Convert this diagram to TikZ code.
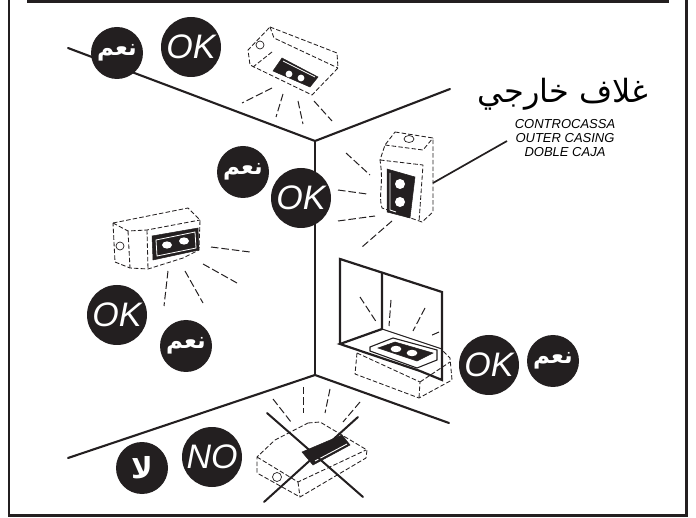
\documentclass[tikz,border=0pt]{standalone}
\usepackage{fontspec}
\setmainfont{Liberation Sans}
\newfontfamily\arabicfont[Script=Arabic]{DejaVu Sans}
\TeXXeTstate=1
\definecolor{ink}{HTML}{231F20}
\tikzset{
  x=1pt,y=-1pt,
  frameline/.style={draw=ink,line width=2.8pt},
  wall/.style={draw=ink,line width=2.1pt,line cap=round},
  niche/.style={draw=ink,line width=2.2pt,line join=miter},
  ray/.style={draw=ink,line width=1pt,dash pattern=on 7.5pt off 3pt},
  casing/.style={draw=ink,line width=.85pt,dash pattern=on 4.5pt off 2.2pt,line join=round},
  plate/.style={fill=ink,draw=ink,line width=.5pt},
  hole/.style={fill=white,draw=none},
  badge/.style={circle,fill=ink,draw=none,inner sep=0pt,text=white},
  okb/.style={badge,minimum size=60pt,font=\itshape\fontsize{34}{34}\selectfont},
  yesb/.style={badge,minimum size=52pt,font=\arabicfont\bfseries\fontsize{23}{23}\selectfont},
  nob/.style={badge,minimum size=52pt,font=\arabicfont\bfseries\fontsize{29}{29}\selectfont},
  crossline/.style={draw=ink,line width=2pt,line cap=round},
}
\newcommand{\yesword}{\beginR نعم\endR}
\begin{document}
\begin{tikzpicture}
\useasboundingbox (0,0) rectangle (696,518);
\draw[frameline] (27,1.5) -- (669,1.5);
\draw[frameline] (9,0) -- (9,515.5) -- (686.5,515.5) -- (686.5,0);

% room edges
\coordinate (cTop) at (315,141); \coordinate (cBot) at (315,375);
\coordinate (wA) at (68,48); \coordinate (wB) at (450,89);
\coordinate (wC) at (68,458); \coordinate (wD) at (449,423);
\draw[wall] (wA) -- (cTop) -- (wB);
\draw[wall] (cTop) -- (cBot);
\draw[wall] (wC) -- (cBot) -- (wD);

% ceiling unit
\draw[casing] (270,27) -- (337,53) -- (338,68) -- (312,95) -- (250,65) -- (248,50) -- cycle;
\draw[casing] (270,27) -- (274,38) -- (338,68);
\draw[casing] (272,52) -- (253,67);
\draw[draw=ink,line width=.7pt] (260,45) circle (4);
\draw[plate] (282,58) -- (318,77) -- (310,87) -- (273,71) -- cycle;
\draw[draw=white,line width=.7pt] (283,61) -- (315,77);
\fill[hole] (289,74) circle (3.4) (301,78) circle (3.4);
\draw[ray] (272,88) -- (242,103);
\draw[ray] (283,94) -- (276,117);
\draw[ray] (298,101) -- (303,124);
\draw[ray] (314,101) -- (332,121);

% wall unit right
\draw[casing] (395,132) -- (433,138) -- (433,212) -- (422,222) -- (382,208)
  .. controls (378,195) and (384,185) .. (380,160) -- (385,145) -- cycle;
\draw[casing] (385,145) -- (423,150) -- (433,138);
\draw[casing] (380,160) -- (423,165) -- (419,222);
\draw[draw=ink,line width=.7pt] (409,139) ellipse (5 and 3.5);
\draw[plate] (387,169) -- (415,177) -- (410,218) -- (387,212) -- cycle;
\draw[draw=white,line width=.9pt] (390,173) -- (390,210) -- (396,212);
\fill[hole] (400,184) circle (5) (400,202) circle (5);
\draw[ray] (346,153) -- (370,175);
\draw[ray] (338,190) -- (367,194);
\draw[ray] (338,221) -- (375,216);
\draw[ray] (392,221) -- (362,247);

% left wall unit
\draw[casing] (113,223) -- (188,208) -- (200,220) -- (199,250) -- (183,258) -- (148,269) -- (130,268) -- (115,262) -- cycle;
\draw[casing] (113,223) -- (128,231) -- (147,230) -- (200,220);
\draw[casing] (128,231) -- (130,268);
\draw[casing] (147,230) -- (148,269);
\draw[draw=ink,line width=.7pt] (120,246) circle (4);
\draw[plate] (152,236) -- (198,228) -- (199,250) -- (153,260) -- cycle;
\draw[draw=white,line width=.8pt] (156,240) -- (195,232) -- (196,248) -- (157,256) -- cycle;
\fill[hole] (167,245) ellipse (5 and 3.6) (184,241) ellipse (5 and 3.6);
\draw[ray] (211,247) -- (250,252);
\draw[ray] (203,264) -- (237,283);
\draw[ray] (185,271) -- (203,303);
\draw[ray] (168,271) -- (164,306);

% niche
\draw[casing] (357,353) -- (355,374) -- (419,398) -- (452,380) -- (450,358) -- (442,350);
\draw[casing] (357,353) -- (420,382) -- (419,398);
\draw[casing] (420,382) -- (450,362);
\draw[niche] (340,344) -- (340,259) -- (442,292) -- (442,380) -- (420,371);
\draw[niche] (382,272) -- (382,329) -- (340,344) -- (420,371);
\draw[draw=ink,line width=1.1pt] (382,329) -- (442,349);
\draw[draw=ink,line width=1.1pt,fill=white] (370,347) -- (393,338) -- (437,350) -- (437,360) -- (417,368) -- (370,351) -- cycle;
\draw[plate] (378,348) -- (395,342) -- (433,353) -- (417,361) -- cycle;
\fill[hole] (396,349) ellipse (5.4 and 3.2) (412,353) ellipse (5.4 and 3.2);
\draw[ray] (360,297) -- (377,323);
\draw[ray] (391,300) -- (389,326);
\draw[ray] (425,308) -- (413,331);
\draw[ray] (439,332) -- (430,336);

% floor unit (crossed out)
\draw[casing] (308,423) -- (320,422) -- (367,450) -- (366,458) -- (300,497) -- (257,473) -- (257,457) -- (275,440) -- cycle;
\draw[casing] (257,457) -- (298,482) -- (366,450);
\draw[casing] (298,482) -- (300,497);
\draw[draw=ink,line width=.7pt] (277,477) circle (4.5);
\draw[plate] (302,452) -- (342,435) -- (350,445) -- (313,465) -- cycle;
\draw[draw=white,line width=.9pt] (315,461) -- (347,444);
\draw[ray] (273,399) -- (291,422);
\draw[ray] (303,387) -- (303,413);
\draw[ray] (330,389) -- (325,413);
\draw[ray] (360,402) -- (343,422);
\coordinate (xA) at (267,413); \coordinate (xB) at (363,497);
\coordinate (xC) at (358,417); \coordinate (xD) at (264,502);
\draw[crossline] (xA) -- (xB);
\draw[crossline] (xC) -- (xD);

% badges
\node[yesb] (y1) at (117,53) {\yesword};
\node[okb] (k1) at (191,47) {OK};
\node[yesb] (y2) at (243,172) {\yesword};
\node[okb] (k2) at (301,198) {OK};
\node[okb] (k3) at (117,315) {OK};
\node[yesb] (y3) at (186,346) {\yesword};
\node[okb] (k4) at (489,365) {OK};
\node[yesb] (y4) at (553,361) {\yesword};
\node[nob] (n1) at (142,468) {\beginR لا\endR};
\node[okb] (n2) at (212,457) {NO};

% labels
\node[inner sep=0pt] (ttl) at (563,94) {\arabicfont\fontsize{32}{32}\selectfont\beginR غلاف خارجي\endR};
\node[inner sep=0pt,align=center,font=\itshape\fontsize{13}{13.8}\selectfont] (lbl) at (565,138) {CONTROCASSA\\OUTER CASING\\DOBLE CAJA};
\coordinate (lead) at (433,183);
\draw[draw=ink,line width=1.7pt] (lead) -- (507,141);
\end{tikzpicture}
\end{document}
